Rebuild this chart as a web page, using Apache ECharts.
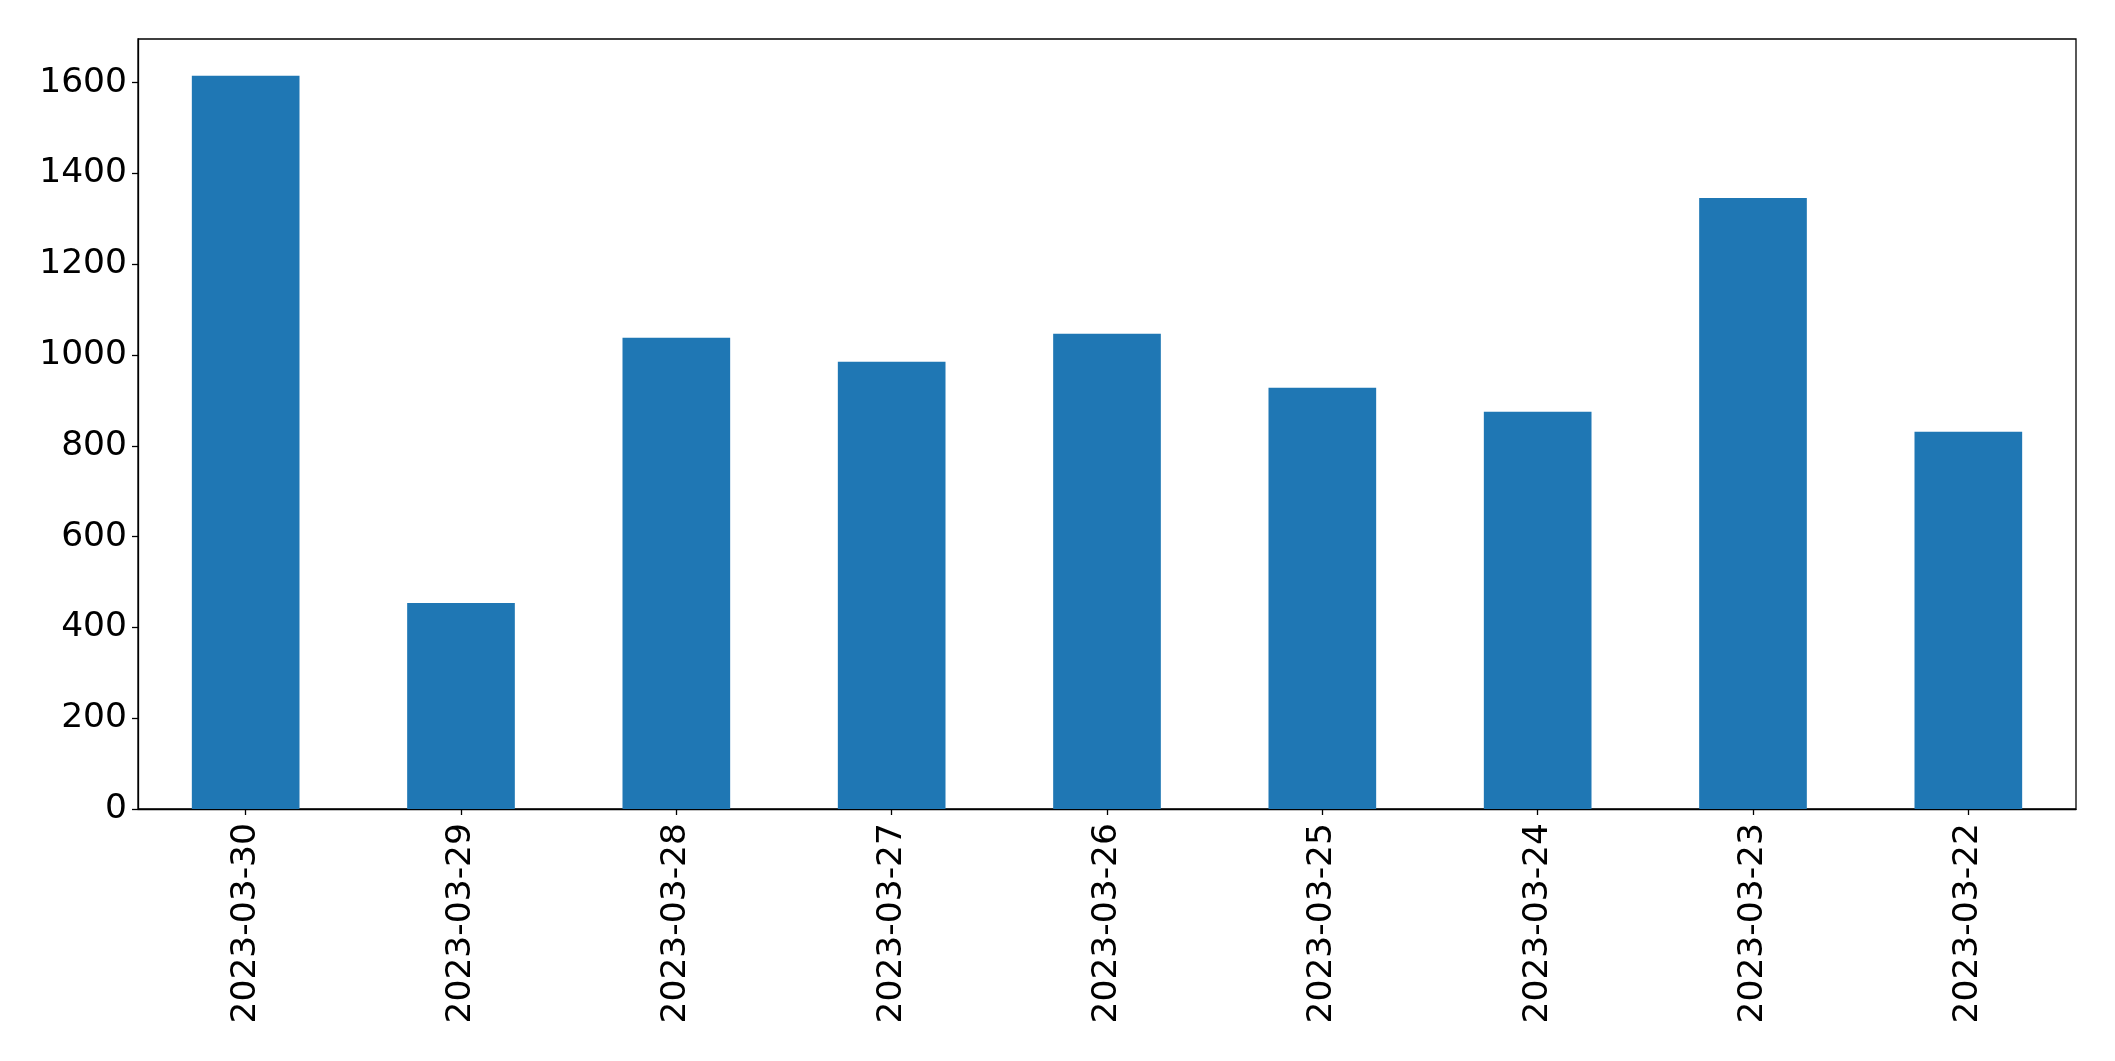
<!DOCTYPE html>
<html>
<head>
<meta charset="utf-8">
<script src="https://cdn.jsdelivr.net/npm/echarts@6/dist/echarts.min.js"></script>
<style>
html,body{margin:0;padding:0;background:#fff;}
#chart{width:2115px;height:1061px;}
</style>
</head>
<body>
<div id="chart"></div>
<script>
const categories = ["2023-03-30","2023-03-29","2023-03-28","2023-03-27","2023-03-26","2023-03-25","2023-03-24","2023-03-23","2023-03-22"];
const values = [1615, 454, 1038, 985, 1047, 928, 875, 1346, 831];
const yTicks = [0, 200, 400, 600, 800, 1000, 1200, 1400, 1600];
const yMax = 1696;

const chart = echarts.init(document.getElementById('chart'), null, {renderer: 'canvas'});
const font = 'DejaVu Sans';
chart.setOption({
  animation: false,
  backgroundColor: '#ffffff',
  grid: {left: 138, right: 39, top: 39, bottom: 252, show: true, borderColor: '#000', borderWidth: 1.3, backgroundColor: 'transparent'},
  xAxis: {
    type: 'category',
    data: categories,
    boundaryGap: true,
    axisLine: {show: true, lineStyle: {color: '#000', width: 1.3}},
    axisTick: {show: true, alignWithLabel: true, length: 6, lineStyle: {color: '#000', width: 1.3}},
    axisLabel: {rotate: 90, margin: 14, color: '#000', fontSize: 34.5, fontFamily: font, interval: 0},
    splitLine: {show: false}
  },
  yAxis: {
    type: 'value',
    min: 0,
    max: yMax,
    interval: 200,
    axisLine: {show: true, lineStyle: {color: '#000', width: 1.3}},
    axisTick: {show: true, length: 6, lineStyle: {color: '#000', width: 1.3}, customValues: yTicks},
    axisLabel: {margin: 11, color: '#000', fontSize: 34.5, fontFamily: font, customValues: yTicks,
      formatter: function (v) { return String(v); }},
    splitLine: {show: false}
  },
  series: [{
    type: 'bar',
    data: values,
    barWidth: '50%',
    itemStyle: {color: '#1f77b4'}
  }]
});
</script>
</body>
</html>
